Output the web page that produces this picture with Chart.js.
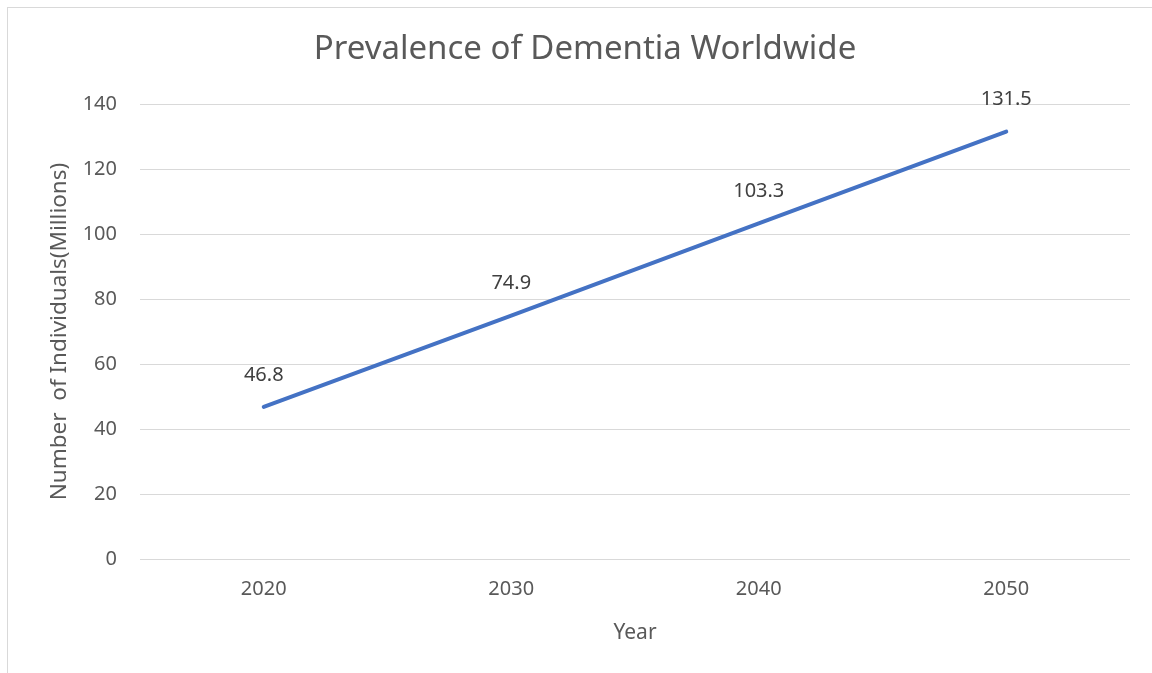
<!DOCTYPE html>
<html>
<head>
<meta charset="utf-8">
<script src="https://cdn.jsdelivr.net/npm/chart.js@4.4.1/dist/chart.umd.min.js"></script>
<style>
  html, body { margin: 0; padding: 0; background: #ffffff; }
  #wrap { position: relative; width: 1152px; height: 673px; }
  #frame { position: absolute; left: 7px; top: 7px; width: 1160px; height: 680px; border-left: 1px solid #d9d9d9; border-top: 1px solid #d9d9d9; box-sizing: border-box; }
  canvas { position: absolute; left: 0; top: 0; }
</style>
</head>
<body>
<div id="wrap">
  <div id="frame"></div>
  <canvas id="c" width="1152" height="673"></canvas>
</div>
<script>
const years = ["2020", "2030", "2040", "2050"];
const prevalence = [46.8, 74.9, 103.3, 131.5];
const chartTitle = "Prevalence of Dementia Worldwide";
const yAxisTitle = "Number  of Individuals(Millions)";
const xAxisTitle = "Year";

const FONT = "'Noto Sans', 'Open Sans', sans-serif";

const valueLabels = {
  id: 'valueLabels',
  afterDatasetsDraw(chart) {
    const ctx = chart.ctx;
    const meta = chart.getDatasetMeta(0);
    ctx.save();
    ctx.font = "20px " + FONT;
    ctx.fillStyle = "#404040";
    ctx.textAlign = "center";
    ctx.textBaseline = "middle";
    meta.data.forEach((pt, i) => {
      ctx.fillText(String(chart.data.datasets[0].data[i]), pt.x, pt.y - 32);
    });
    ctx.restore();
  }
};

new Chart(document.getElementById('c'), {
  type: 'line',
  data: {
    labels: years,
    datasets: [{
      data: prevalence,
      borderColor: '#4472C4',
      borderWidth: 4,
      borderCapStyle: 'round',
      pointRadius: 0,
      pointHoverRadius: 0,
      tension: 0,
      fill: false
    }]
  },
  options: {
    responsive: false,
    animation: false,
    devicePixelRatio: 1,
    layout: { padding: { left: 40, right: 22, top: 10, bottom: 0 } },
    plugins: {
      legend: { display: false },
      tooltip: { enabled: false },
      title: {
        display: true,
        text: chartTitle,
        color: '#595959',
        font: { family: FONT, size: 33, weight: 'normal' },
        padding: { top: 20, bottom: 34.4 }
      }
    },
    scales: {
      x: {
        offset: true,
        grid: { display: false, drawTicks: false },
        border: { display: false },
        ticks: { color: '#595959', font: { family: FONT, size: 20 }, padding: 18 },
        title: { display: true, text: xAxisTitle, color: '#595959', font: { family: FONT, size: 21 }, padding: { top: 0, bottom: 27 } },
        afterFit(scale) { scale.height = 114; }
      },
      y: {
        min: 0,
        max: 140,
        ticks: { stepSize: 20, color: '#595959', font: { family: FONT, size: 20 }, padding: 23 },
        grid: { color: '#d9d9d9', lineWidth: 1, drawTicks: false },
        border: { display: false },
        title: { display: true, text: yAxisTitle, color: '#595959', font: { family: FONT, size: 22.5 }, padding: { top: 6, bottom: 0 } },
        afterFit(scale) { scale.width = 100; }
      }
    }
  },
  plugins: [valueLabels]
});
</script>
</body>
</html>
